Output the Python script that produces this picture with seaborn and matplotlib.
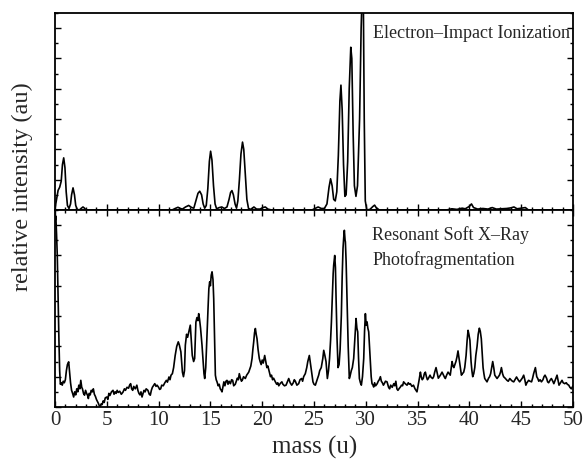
import numpy as np
import pandas as pd
import seaborn as sns
import matplotlib
matplotlib.use('Agg')
import matplotlib.pyplot as plt
from matplotlib.ticker import MultipleLocator

# electron-impact mass spectrum (top panel)
ei_mass = [0.0, 0.15, 0.3, 0.45, 0.6, 0.72, 0.84, 0.96, 1.08, 1.2, 1.35, 1.5, 1.6, 1.74, 1.88, 2.0,
           2.15, 2.35, 2.55, 2.7, 2.85, 3.0, 11.3, 11.6, 11.87, 12.1, 12.3, 12.6, 12.9, 13.2, 13.4,
           13.6, 13.8, 13.97, 14.15, 14.3, 14.45, 14.6, 14.75, 14.9, 15.02, 15.15, 15.3, 15.45, 15.6,
           15.85, 16.1, 16.35, 16.6, 16.8, 16.95, 17.08, 17.22, 17.38, 17.52, 17.65, 17.8, 17.95,
           18.1, 18.22, 18.38, 18.52, 18.68, 18.9, 19.2, 19.45, 19.8, 20.05, 20.3, 20.55, 20.9,
           24.8, 25.1, 25.4, 25.7, 26.0, 26.25, 26.45, 26.6, 26.75, 26.9, 27.05, 27.2, 27.35, 27.5,
           27.6, 27.72, 27.85, 27.98, 28.1, 28.25, 28.4, 28.55, 28.65, 28.78, 28.9, 29.05, 29.2,
           29.4, 29.55, 29.68, 29.75, 29.85, 29.95, 30.1, 30.4, 30.7, 30.85, 31.0, 31.3, 37.8,
           38.3, 38.8, 39.3, 39.6, 40.0, 40.2, 40.4, 40.8, 41.3, 41.8, 42.2, 42.6, 43.1, 43.6,
           44.0, 44.3, 44.6, 45.0, 45.4, 45.7, 50.0]
ei_signal = [0.05, 0.35, 0.65, 0.75, 0.95, 1.5, 1.72, 1.4, 0.6, 0.15, 0.05, 0.2, 0.5, 0.73, 0.5, 0.15,
             0.02, 0.0, 0.06, 0.1, 0.06, 0.0, 0.0, 0.05, 0.09, 0.05, 0.03, 0.1, 0.15, 0.08, 0.06,
             0.3, 0.55, 0.62, 0.5, 0.2, 0.06, 0.15, 0.7, 1.6, 1.94, 1.65, 0.8, 0.2, 0.04,
             0.08, 0.1, 0.05, 0.1, 0.35, 0.58, 0.64, 0.5, 0.2, 0.06, 0.3, 1.0, 1.85,
             2.24, 2.0, 1.1, 0.35, 0.05, 0.02, 0.1, 0.03, 0.03, 0.08, 0.1, 0.03, 0.0,
             0.0, 0.05, 0.1, 0.05, 0.05, 0.2, 0.75, 1.03, 0.8, 0.35, 0.3, 0.6, 1.8, 3.6,
             4.12, 3.3, 1.5, 0.45, 0.5, 1.6, 4.0, 5.37, 5.0, 2.5, 0.8, 0.45, 0.8,
             3.0, 6.0, 7.5, 7.5, 3.0, 0.3, 0.0, 0.02, 0.12, 0.16, 0.08, 0.0, 0.0,
             0.04, 0.02, 0.06, 0.04, 0.12, 0.2, 0.08, 0.03, 0.05, 0.03, 0.08, 0.03, 0.04, 0.05,
             0.07, 0.1, 0.04, 0.06, 0.08, 0.0, 0.0]

# resonant soft x-ray photofragmentation spectrum (bottom panel)
sx_mass = [0.0, 0.08, 0.15, 0.22, 0.3, 0.38, 0.45, 0.52, 0.6, 0.7, 0.8, 0.9, 1.0, 1.1, 1.2, 1.32,
           1.42, 1.5, 1.6, 1.7, 1.8, 1.9, 2.0, 2.1, 2.2, 2.3, 2.4, 2.49, 2.58, 2.65, 2.75, 2.85,
           2.95, 3.05, 3.15, 3.22, 3.3, 3.4, 3.5, 3.6, 3.7, 3.8, 3.9, 4.0, 4.1, 4.2, 4.3, 4.37,
           4.45, 4.55, 4.65, 4.75, 4.85, 5.0, 5.1, 5.2, 5.3, 5.45, 5.6, 5.7, 5.8, 5.9, 6.0, 6.1,
           6.25, 6.4, 6.56, 6.7, 6.8, 6.95, 7.1, 7.2, 7.3, 7.4, 7.5, 7.6, 7.75, 7.9, 8.0, 8.1,
           8.2, 8.3, 8.4, 8.5, 8.6, 8.7, 8.8, 8.97, 9.1, 9.2, 9.3, 9.4, 9.5, 9.63, 9.75, 9.85,
           10.0, 10.1, 10.2, 10.3, 10.45, 10.6, 10.75, 10.85, 11.0, 11.1, 11.2, 11.33, 11.45,
           11.6, 11.75, 11.9, 12.0, 12.15, 12.3, 12.4, 12.5, 12.58, 12.7, 12.8, 12.9, 13.0,
           13.06, 13.15, 13.25, 13.38, 13.48, 13.6, 13.7, 13.8, 13.87, 13.95, 14.05, 14.19,
           14.3, 14.38, 14.45, 14.55, 14.65, 14.77, 14.85, 14.93, 15.0, 15.08, 15.16, 15.25,
           15.32, 15.4, 15.48, 15.56, 15.64, 15.75, 15.85, 15.95, 16.05, 16.12, 16.2, 16.3,
           16.4, 16.5, 16.6, 16.7, 16.8, 16.93, 17.05, 17.15, 17.25, 17.4, 17.5, 17.6, 17.7,
           17.79, 17.9, 18.0, 18.1, 18.2, 18.37, 18.5, 18.6, 18.7, 18.8, 18.9, 19.02, 19.1,
           19.18, 19.26, 19.34, 19.42, 19.5, 19.6, 19.72, 19.8, 19.9, 20.0, 20.1, 20.24, 20.35,
           20.45, 20.55, 20.69, 20.8, 20.9, 21.0, 21.1, 21.27, 21.4, 21.5, 21.6, 21.75, 21.9,
           22.0, 22.15, 22.3, 22.45, 22.56, 22.7, 22.85, 23.0, 23.1, 23.2, 23.35, 23.52, 23.65,
           23.8, 23.9, 24.0, 24.16, 24.3, 24.4, 24.55, 24.65, 24.75, 24.9, 25.0, 25.13, 25.25,
           25.35, 25.45, 25.55, 25.7, 25.85, 25.94, 26.05, 26.16, 26.29, 26.4, 26.5, 26.6,
           26.68, 26.78, 26.85, 26.9, 26.97, 27.0, 27.07, 27.13, 27.22, 27.32, 27.42, 27.52,
           27.64, 27.72, 27.8, 27.87, 27.93, 28.0, 28.03, 28.1, 28.19, 28.3, 28.41, 28.5, 28.6,
           28.7, 28.83, 28.95, 29.06, 29.14, 29.22, 29.3, 29.38, 29.48, 29.57, 29.68, 29.8,
           29.88, 29.96, 30.04, 30.12, 30.2, 30.28, 30.36, 30.44, 30.52, 30.6, 30.7, 30.76,
           30.85, 30.95, 31.1, 31.2, 31.3, 31.41, 31.5, 31.6, 31.7, 31.8, 31.9, 32.05, 32.2,
           32.3, 32.4, 32.55, 32.7, 32.8, 32.9, 33.0, 33.1, 33.2, 33.34, 33.45, 33.55, 33.65,
           33.8, 33.98, 34.1, 34.2, 34.3, 34.45, 34.6, 34.75, 34.85, 34.94, 35.05, 35.15, 35.27,
           35.35, 35.45, 35.55, 35.65, 35.75, 35.85, 35.95, 36.05, 36.2, 36.3, 36.45, 36.55,
           36.65, 36.78, 36.9, 37.0, 37.1, 37.2, 37.36, 37.5, 37.6, 37.68, 37.8, 37.94, 38.05,
           38.15, 38.25, 38.33, 38.42, 38.5, 38.6, 38.7, 38.8, 38.9, 39.0, 39.1, 39.23, 39.33,
           39.45, 39.55, 39.68, 39.78, 39.87, 39.95, 40.05, 40.16, 40.24, 40.32, 40.42, 40.52,
           40.62, 40.74, 40.85, 40.96, 41.05, 41.15, 41.25, 41.32, 41.4, 41.48, 41.6, 41.7,
           41.85, 41.95, 42.05, 42.15, 42.25, 42.35, 42.45, 42.55, 42.67, 42.8, 42.9, 43.0,
           43.09, 43.2, 43.3, 43.45, 43.63, 43.75, 43.9, 44.0, 44.15, 44.28, 44.4, 44.55, 44.7,
           44.85, 45.0, 45.1, 45.24, 45.35, 45.45, 45.55, 45.72, 45.85, 46.0, 46.1, 46.2, 46.37,
           46.5, 46.6, 46.7, 46.82, 46.95, 47.1, 47.2, 47.3, 47.45, 47.55, 47.65, 47.78, 47.91,
           48.05, 48.15, 48.3, 48.46, 48.55, 48.65, 48.8, 48.94, 49.05, 49.2, 49.35, 49.45,
           49.59, 49.7, 49.84, 50.0]
sx_signal = [6.1, 6.3, 5.7, 5.0, 3.6, 2.2, 1.2, 0.75, 0.8, 0.72, 0.85, 0.8, 0.9, 1.2, 1.4, 1.49,
             1.1, 0.8, 0.55, 0.45, 0.33, 0.5, 0.4, 0.6, 0.5, 0.72, 0.6, 0.88, 0.65, 0.6, 0.45, 0.39,
             0.55, 0.45, 0.38, 0.28, 0.45, 0.4, 0.55, 0.5, 0.6, 0.42, 0.35, 0.25, 0.18, 0.11, 0.02, 0.0,
             0.1, 0.08, 0.2, 0.15, 0.3, 0.33, 0.25, 0.45, 0.38, 0.5, 0.55, 0.42, 0.5, 0.45, 0.55, 0.48,
             0.52, 0.42, 0.49, 0.6, 0.55, 0.65, 0.62, 0.72, 0.77, 0.6, 0.55, 0.68, 0.6, 0.72, 0.55, 0.45,
             0.4, 0.5, 0.33, 0.45, 0.55, 0.5, 0.6, 0.55, 0.42, 0.39, 0.55, 0.65, 0.7, 0.77, 0.68, 0.72,
             0.65, 0.58, 0.6, 0.72, 0.7, 0.8, 0.88, 0.82, 0.99, 0.9, 1.05, 1.1, 1.3,
             1.7, 2.0, 2.15, 2.05, 1.82, 1.15, 1.0, 1.2, 2.04, 2.4, 2.3, 2.45, 2.6,
             2.7, 2.2, 1.7, 1.5, 1.6, 2.8, 2.95, 2.85, 3.08, 2.9, 2.6, 2.04,
             1.5, 1.1, 0.94, 1.3, 2.2, 3.24, 3.9, 4.13, 4.0, 4.35, 4.46, 4.2,
             3.57, 2.3, 1.05, 0.9, 0.83, 0.7, 0.75, 0.6, 0.55, 0.5, 0.65, 0.83,
             0.7, 0.85, 0.88, 0.75, 0.85, 0.77, 0.9, 0.88, 0.7, 0.75, 0.85, 0.95, 0.9,
             1.1, 0.95, 0.85, 0.9, 1.0, 0.94, 1.05, 1.1, 1.15, 1.25, 1.35, 1.6, 1.9,
             2.15, 2.45, 2.59, 2.4, 2.25, 1.9, 1.6, 1.5, 1.4, 1.55, 1.45, 1.7, 1.5,
             1.3, 1.35, 1.15, 1.0, 1.05, 0.9, 0.95, 0.83, 0.75, 0.8, 0.7, 0.78, 0.83,
             0.75, 0.7, 0.72, 0.85, 0.94, 0.8, 0.72, 0.8, 0.9, 0.85, 0.72, 0.77, 0.9,
             0.94, 0.85, 1.0, 1.1, 1.3, 1.5, 1.7, 1.45, 1.2, 0.83, 0.75, 0.72, 0.85,
             0.95, 1.05, 1.2, 1.3, 1.6, 1.87, 1.7, 1.5, 0.94, 1.2, 1.6, 2.2,
             2.8, 3.8, 4.4, 4.68, 4.9, 5.0, 4.6, 3.6, 2.3, 1.3, 1.4, 1.9,
             3.03, 4.3, 5.23, 5.6, 5.83, 5.5, 5.45, 4.8, 3.6, 2.0, 0.94, 1.05, 1.2,
             1.3, 1.6, 2.3, 2.92, 2.6, 2.48, 1.6, 0.94, 0.8, 0.72, 1.0, 1.6,
             2.5, 3.08, 2.7, 2.81, 2.6, 2.48, 2.0, 1.5, 1.0, 0.77, 0.72, 0.66,
             0.8, 0.7, 0.77, 0.85, 0.9, 1.0, 0.85, 0.8, 0.72, 0.78, 0.85, 0.83, 0.65,
             0.6, 0.72, 0.65, 0.77, 0.7, 0.85, 0.6, 0.55, 0.6, 0.66, 0.72, 0.7, 0.83,
             0.77, 0.72, 0.8, 0.75, 0.77, 0.68, 0.72, 0.6, 0.55, 0.5, 0.7, 0.9, 1.15,
             1.0, 0.9, 0.95, 1.1, 1.15, 1.0, 0.9, 0.95, 1.05, 0.98, 0.94, 1.0,
             1.15, 1.3, 1.1, 0.95, 1.0, 1.05, 1.15, 1.05, 0.98, 0.94, 1.05, 1.15, 1.1,
             1.05, 1.3, 1.5, 1.35, 1.3, 1.4, 1.5, 1.65, 1.85, 1.6, 1.35, 1.05, 1.1,
             1.15, 1.3, 1.7, 2.2, 2.53, 2.4, 2.2, 1.5, 1.2, 1.0, 1.1, 1.3,
             1.7, 2.0, 2.4, 2.6, 2.5, 2.25, 1.7, 1.3, 1.1, 0.94, 0.88, 0.83,
             0.95, 1.0, 1.1, 1.3, 1.5, 1.3, 1.05, 1.0, 0.94, 1.0, 1.05, 1.15,
             1.3, 1.1, 1.0, 0.95, 0.88, 0.85, 0.94, 0.9, 0.85, 0.83, 0.9, 0.99, 0.9,
             0.83, 0.9, 0.95, 1.05, 0.9, 0.72, 0.8, 0.88, 0.85, 0.83, 0.95, 1.1, 1.3,
             1.0, 0.94, 0.85, 0.9, 0.83, 0.9, 1.0, 1.05, 0.95, 0.83, 0.8, 0.88, 0.94,
             0.85, 0.77, 0.9, 1.05, 0.9, 0.72, 0.8, 0.88, 0.8, 0.77, 0.8, 0.75,
             0.72, 0.65, 0.6, 0.7]

ei_df = pd.DataFrame({'mass': ei_mass, 'intensity': ei_signal})
sx_df = pd.DataFrame({'mass': sx_mass, 'intensity': sx_signal})

sns.set_style('ticks')
plt.rcParams['font.family'] = ['Liberation Serif', 'DejaVu Serif']

W, H = 584, 465
fig = plt.figure(figsize=(W / 100, H / 100), dpi=100)
ax_top = fig.add_axes([55 / W, 1 - 210 / H, 518 / W, 197 / H])
ax_bot = fig.add_axes([55 / W, 1 - 407 / H, 518 / W, 197 / H])

sns.lineplot(data=ei_df, x='mass', y='intensity', ax=ax_top, color='black', lw=1.2,
             sort=False, estimator=None)
sns.lineplot(data=sx_df, x='mass', y='intensity', ax=ax_bot, color='black', lw=1.2,
             sort=False, estimator=None)


def style_axis(ax, top_ticks, show_labels):
    ax.set_xlim(0, 50)
    ax.set_ylim(0, 6.5)
    ax.xaxis.set_major_locator(MultipleLocator(5))
    ax.xaxis.set_minor_locator(MultipleLocator(1))
    ax.yaxis.set_major_locator(MultipleLocator(1))
    ax.yaxis.set_minor_locator(MultipleLocator(0.5))
    ax.tick_params(which='both', direction='in', left=True, right=True, bottom=True,
                   top=top_ticks, labelleft=False, labelbottom=show_labels, width=1.0,
                   color='black')
    ax.tick_params(which='major', length=4, labelsize=15, pad=3)
    ax.tick_params(which='minor', length=2)
    for s in ax.spines.values():
        s.set_visible(True)
        s.set_linewidth(1.3)
        s.set_color('black')
    ax.set_xlabel('')
    ax.set_ylabel('')


style_axis(ax_top, False, False)
style_axis(ax_bot, True, True)

ax_top.text(30.7, 5.84, 'Electron\u2013Impact Ionization', fontsize=13, ha='left', va='center')
ax_bot.text(30.6, 5.67, 'Resonant Soft X\u2013Ray', fontsize=13, ha='left', va='center')
ax_bot.text(30.6, 4.84, 'Photofragmentation', fontsize=13, ha='left', va='center')

fig.text(22 / W, 1 - 187 / H, 'relative intensity (au)', rotation=90, ha='center',
         va='center', fontsize=17.5)
fig.text(315 / W, 1 - 447 / H, 'mass (u)', ha='center', va='center', fontsize=18)

fig.savefig('out.png', dpi=100)
